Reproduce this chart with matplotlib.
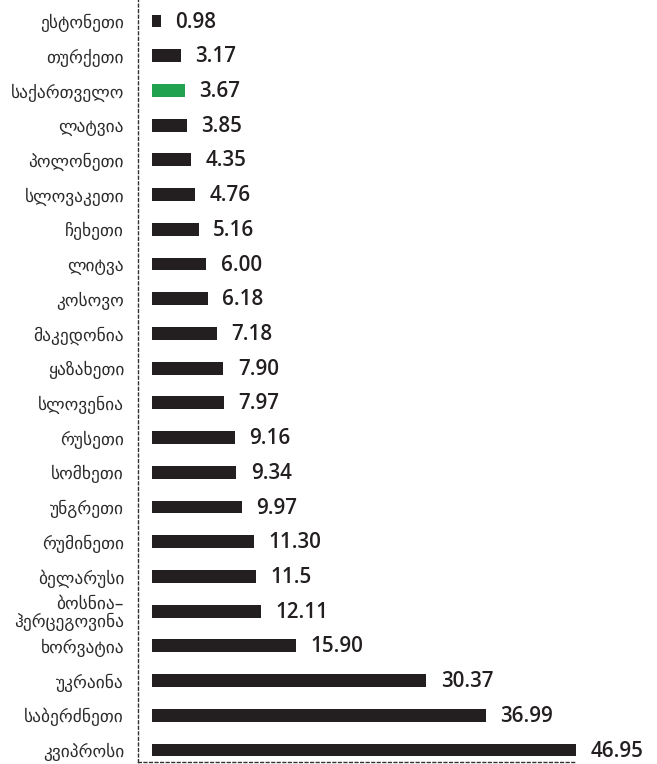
import matplotlib.pyplot as plt

countries = ["ესტონეთი", "თურქეთი", "საქართველო", "ლატვია", "პოლონეთი",
             "სლოვაკეთი", "ჩეხეთი", "ლიტვა", "კოსოვო", "მაკედონია",
             "ყაზახეთი", "სლოვენია", "რუსეთი", "სომხეთი", "უნგრეთი",
             "რუმინეთი", "ბელარუსი", "ბოსნია–\nჰერცეგოვინა", "ხორვატია",
             "უკრაინა", "საბერძნეთი", "კვიპროსი"]
values = [0.98, 3.17, 3.67, 3.85, 4.35, 4.76, 5.16, 6.00, 6.18, 7.18,
          7.90, 7.97, 9.16, 9.34, 9.97, 11.30, 11.5, 12.11, 15.90,
          30.37, 36.99, 46.95]
value_labels = ["0.98", "3.17", "3.67", "3.85", "4.35", "4.76", "5.16", "6.00",
                "6.18", "7.18", "7.90", "7.97", "9.16", "9.34", "9.97", "11.30",
                "11.5", "12.11", "15.90", "30.37", "36.99", "46.95"]
highlight = "საქართველო"

dark = "#231f20"
green = "#21a24f"

fig = plt.figure(figsize=(6.57, 7.64), dpi=100)
ax = fig.add_axes([138 / 657, 2 / 764, 438 / 657, 762 / 764])

ypos = list(range(len(countries)))
colors = [green if c == highlight else dark for c in countries]
ax.barh(ypos, values, height=0.37, color=colors, left=0)

for y, v, lab in zip(ypos, values, value_labels):
    ax.text(v + 1.6, y + 0.03, lab, va="center", ha="left", fontsize=14.8,
            fontweight=600, family="Open Sans", color=dark, clip_on=False)

ax.set_xlim(-1.55, 46.95)
ax.set_ylim(21.346, -0.605)
ax.set_yticks(ypos)
ax.set_yticklabels(countries, family="DejaVu Sans", fontsize=12.5, color="#2b2b2b",
                   linespacing=1.0)
ax.tick_params(axis="y", length=0, pad=10)
ax.set_xticks([])

for s in ["top", "right"]:
    ax.spines[s].set_visible(False)
for s in ["left", "bottom"]:
    ax.spines[s].set_linestyle((0, (2, 2)))
    ax.spines[s].set_linewidth(1.0)
    ax.spines[s].set_color("#333333")

fig.savefig("out.png", dpi=100)
